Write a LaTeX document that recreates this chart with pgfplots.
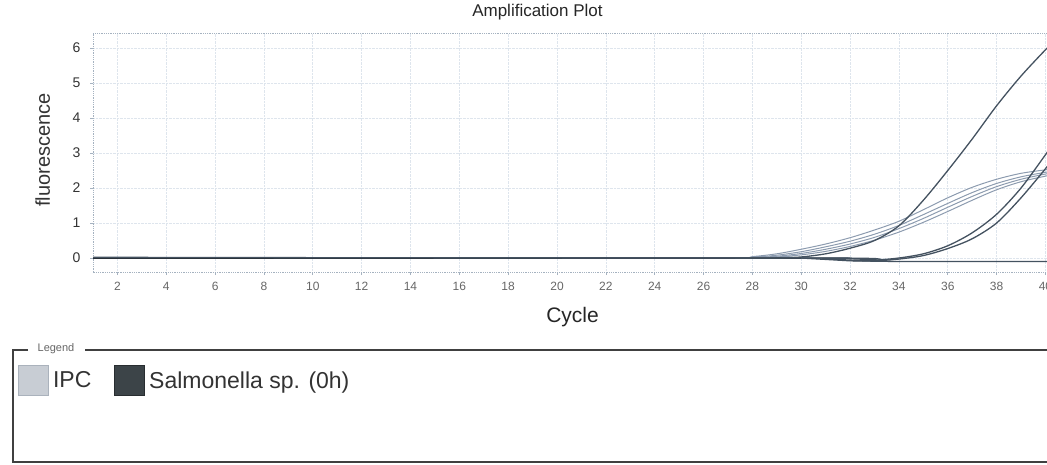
\documentclass[border=0pt]{standalone}
\usepackage{fontspec}
\setmainfont{Liberation Sans}
\usepackage{pgfplots}
\pgfplotsset{compat=1.18}
\definecolor{ipcline}{RGB}{140,155,175}
\definecolor{darkline}{RGB}{68,82,96}
\definecolor{baseline}{RGB}{45,58,60}
\definecolor{ipcfill}{RGB}{200,205,212}
\definecolor{ipcdraw}{RGB}{170,178,188}
\definecolor{salfill}{RGB}{60,68,72}
\definecolor{saldraw}{RGB}{40,45,48}
\definecolor{gridc}{RGB}{222,229,237}
\definecolor{framec}{RGB}{165,178,192}
\begin{document}
\begin{tikzpicture}
\useasboundingbox (0,0) rectangle (1047pt,-464pt);
\begin{axis}[
  at={(93pt,-272pt)}, anchor=south west,
  scale only axis, width=960pt, height=239pt,
  xmin=1, xmax=40.31, ymin=-0.4, ymax=6.43,
  xtick={2,4,...,40}, ytick={0,1,...,6},
  tick align=outside, major tick length=3pt,
  xtick pos=bottom, ytick pos=left,
  tick style={color=framec, line width=0.6pt},
  grid=major, major grid style={color=gridc, densely dotted, line width=0.6pt},
  axis line style={color=framec, densely dotted, line width=0.8pt},
  /pgf/number format/assume math mode=true,
  xticklabel style={font=\fontsize{12}{14}\selectfont, color=black!60, yshift=-4pt},
  yticklabel style={font=\fontsize{14}{16}\selectfont, color=black!80, xshift=-6pt},
  title={Amplification Plot},
  title style={font=\fontsize{17}{20}\selectfont, color=black!85, at={(0.463,1)}, anchor=base, yshift=11pt},
  xlabel={Cycle},
  xlabel style={font=\fontsize{21}{24}\selectfont, color=black!85, at={(0.4995,0)}, anchor=base, yshift=-50pt},
  ylabel={fluorescence},
  ylabel style={font=\fontsize{20}{24}\selectfont, color=black!80, at={(-0.0448,0.51)}, anchor=base},
  legend style={draw=none, fill=none, inner sep=0pt, at={(-0.0781,-0.389)}, anchor=north west,
    font=\fontsize{23}{26}\selectfont, text=black!80,
    nodes={inner sep=2pt},
    /tikz/every odd column/.append style={column sep=2pt},
    /tikz/every even column/.append style={column sep=21pt}},
  legend cell align=left, legend columns=2,
]
% IPC curves
\addplot[ipcline, line width=1pt, smooth, tension=0.5,
  legend image code/.code={\draw[fill=ipcfill, draw=ipcdraw, line width=0.8pt] (0pt,-15pt) rectangle (30pt,15pt);}]
  coordinates {(1,0)(27,0)(28,0.04)(29,0.12)(30,0.25)(31,0.40)(32,0.58)(33,0.80)(34,1.05)(35,1.38)(36,1.72)(37,2.02)(38,2.25)(39,2.42)(40,2.52)(40.3,2.55)};
\addlegendentry{IPC}
\addplot[ipcline, line width=1pt, smooth, tension=0.5, forget plot]
  coordinates {(1,0)(27,0)(28,0.02)(29,0.08)(30,0.18)(31,0.32)(32,0.48)(33,0.68)(34,0.93)(35,1.24)(36,1.56)(37,1.87)(38,2.13)(39,2.32)(40,2.45)(40.3,2.48)};
\addplot[ipcline, line width=1pt, smooth, tension=0.5, forget plot]
  coordinates {(1,0)(27,0)(28,0.01)(29,0.05)(30,0.13)(31,0.25)(32,0.40)(33,0.59)(34,0.84)(35,1.13)(36,1.45)(37,1.76)(38,2.04)(39,2.25)(40,2.40)(40.3,2.43)};
\addplot[ipcline, line width=1pt, smooth, tension=0.5, forget plot]
  coordinates {(1,0)(28,0)(29,0.03)(30,0.09)(31,0.19)(32,0.33)(33,0.51)(34,0.74)(35,1.02)(36,1.33)(37,1.65)(38,1.95)(39,2.18)(40,2.34)(40.3,2.38)};
% overlapping baseline of all traces (thick part)
\addplot[baseline, line width=2.2pt, forget plot]
  coordinates {(1,0.0)(30,0)};
% flat trace continuing
\addplot[darkline, line width=1.3pt, forget plot]
  coordinates {(30,0)(32,-0.08)(34,-0.1)(40,-0.1)(40.3,-0.1)};
% Salmonella curves
\addplot[darkline, line width=1.3pt, smooth, tension=0.5,
  legend image code/.code={\draw[fill=salfill, draw=saldraw, line width=0.8pt] (0pt,-15pt) rectangle (30pt,15pt);}]
  coordinates {(1,0.02)(10,0.01)(20,0)(28,0)(29,0.0)(30,0.03)(31,0.12)(32,0.28)(33,0.50)(34,0.92)(35,1.65)(36,2.5)(37,3.4)(38,4.35)(39,5.2)(40,5.95)(40.3,6.15)};
\addlegendentry{Salmonella sp. (0h)}
\addplot[darkline, line width=1.3pt, smooth, tension=0.5, forget plot]
  coordinates {(1,0.01)(30,0)(31,-0.02)(32,-0.06)(33,-0.06)(34,0.0)(35,0.12)(36,0.35)(37,0.72)(38,1.25)(39,2.0)(40,2.95)(40.3,3.25)};
\addplot[darkline, line width=1.3pt, smooth, tension=0.5, forget plot]
  coordinates {(1,0.01)(31,0)(32,-0.07)(33,-0.08)(34,-0.03)(35,0.07)(36,0.27)(37,0.55)(38,1.0)(39,1.72)(40,2.55)(40.3,2.82)};
\end{axis}
% legend frame
\draw[black!75, line width=1.2pt] (28pt,-350pt) -- (13pt,-350pt) -- (13pt,-462pt) -- (1060pt,-462pt);
\draw[black!75, line width=1.2pt] (85pt,-350pt) -- (1060pt,-350pt);
\node[font=\fontsize{11}{12}\selectfont, text=black!60, inner sep=0pt] at (56pt,-349pt) {Legend};
\end{tikzpicture}
\end{document}
